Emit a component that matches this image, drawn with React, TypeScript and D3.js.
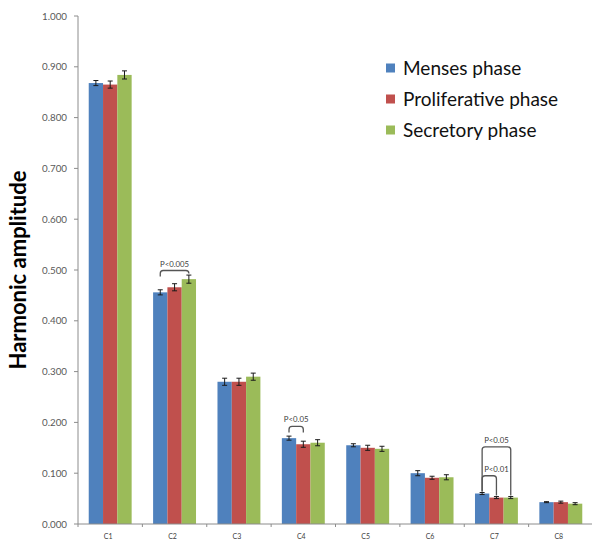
import { useEffect, useRef } from 'react'
import * as d3 from 'd3'

const categories = ['C1', 'C2', 'C3', 'C4', 'C5', 'C6', 'C7', 'C8']
const seriesNames = ['Menses phase', 'Proliferative phase', 'Secretory phase']
const seriesColors = ['#4F81BD', '#C0504D', '#9BBB59']

const menses = [0.868, 0.456, 0.28, 0.169, 0.155, 0.1, 0.06, 0.043]
const proliferative = [0.865, 0.466, 0.28, 0.157, 0.15, 0.091, 0.052, 0.043]
const secretory = [0.884, 0.482, 0.29, 0.16, 0.148, 0.092, 0.052, 0.04]

const mensesErr = [0.005, 0.005, 0.007, 0.004, 0.003, 0.005, 0.002, 0.001]
const proliferativeErr = [0.007, 0.007, 0.007, 0.006, 0.005, 0.003, 0.002, 0.002]
const secretoryErr = [0.008, 0.008, 0.007, 0.006, 0.005, 0.005, 0.002, 0.002]

const yTicks = [0, 0.1, 0.2, 0.3, 0.4, 0.5, 0.6, 0.7, 0.8, 0.9, 1.0]

// significance brackets: category, from series, to series, label, bracket top value
const brackets = [
  { cat: 'C2', from: 0, to: 2, label: 'P<0.005', top: 0.499 },
  { cat: 'C4', from: 0, to: 1, label: 'P<0.05', top: 0.192 },
  { cat: 'C7', from: 0, to: 2, label: 'P<0.05', top: 0.152 },
  { cat: 'C7', from: 0, to: 1, label: 'P<0.01', top: 0.095 },
]

const App = () => {
  const svgRef = useRef<SVGSVGElement | null>(null)

  useEffect(() => {
    const svg = d3.select(svgRef.current)
    svg.selectAll('*').remove()

    const width = 592
    const height = 542
    const margin = { top: 16, right: 0, bottom: 18, left: 78 }

    const values = [menses, proliferative, secretory]
    const errors = [mensesErr, proliferativeErr, secretoryErr]

    const x0 = d3.scaleBand().domain(categories).range([margin.left, width + 1])
    const x1 = d3
      .scaleBand()
      .domain(['0', '1', '2'])
      .range([0, x0.bandwidth()])
      .paddingOuter(0.75)
    const y = d3.scaleLinear().domain([0, 1]).range([height - margin.bottom, margin.top])

    const axisColor = '#8c8c8c'
    const baseY = y(0)

    // y axis
    svg
      .append('line')
      .attr('x1', margin.left)
      .attr('x2', margin.left)
      .attr('y1', y(1))
      .attr('y2', baseY)
      .attr('stroke', axisColor)

    const yt = svg.append('g')
    yt.selectAll('line')
      .data(yTicks)
      .join('line')
      .attr('x1', margin.left - 4)
      .attr('x2', margin.left)
      .attr('y1', (d) => y(d))
      .attr('y2', (d) => y(d))
      .attr('stroke', axisColor)
    yt.selectAll('text')
      .data(yTicks)
      .join('text')
      .attr('x', margin.left - 11)
      .attr('y', (d) => y(d) + 3.5)
      .attr('text-anchor', 'end')
      .attr('font-family', 'Lato, "Open Sans", sans-serif')
      .attr('font-size', 9.8)
      .attr('fill', '#595959')
      .text((d) => d3.format('.3f')(d))

    // bars
    categories.forEach((cat, ci) => {
      values.forEach((vals, si) => {
        const bx = x0(cat)! + x1(String(si))!
        const bw = x1.bandwidth()
        svg
          .append('rect')
          .attr('x', bx)
          .attr('y', y(vals[ci]))
          .attr('width', bw)
          .attr('height', baseY - y(vals[ci]))
          .attr('fill', seriesColors[si])
        const cx = bx + bw / 2
        const e = errors[si][ci]
        const g = svg.append('g').attr('stroke', '#1a1a1a').attr('stroke-width', 1)
        g.append('line')
          .attr('x1', cx)
          .attr('x2', cx)
          .attr('y1', y(vals[ci] + e))
          .attr('y2', y(vals[ci] - e))
        ;[vals[ci] + e, vals[ci] - e].forEach((v) => {
          g.append('line')
            .attr('x1', cx - 2.5)
            .attr('x2', cx + 2.5)
            .attr('y1', y(v))
            .attr('y2', y(v))
        })
      })
    })

    // x axis
    svg
      .append('line')
      .attr('x1', margin.left)
      .attr('x2', width)
      .attr('y1', baseY)
      .attr('y2', baseY)
      .attr('stroke', axisColor)
    svg
      .append('g')
      .selectAll('line')
      .data(categories)
      .join('line')
      .attr('x1', (d) => x0(d)!)
      .attr('x2', (d) => x0(d)!)
      .attr('y1', baseY)
      .attr('y2', baseY + 3)
      .attr('stroke', axisColor)
    svg
      .append('g')
      .selectAll('text')
      .data(categories)
      .join('text')
      .attr('x', (d) => x0(d)! + x0.bandwidth() / 2 - 2)
      .attr('y', baseY + 15)
      .attr('text-anchor', 'middle')
      .attr('font-family', 'Lato, "Open Sans", sans-serif')
      .attr('font-size', 7)
      .attr('fill', '#404040')
      .text((d) => d)

    // significance brackets
    brackets.forEach((b) => {
      const xa = x0(b.cat)! + x1(String(b.from))! + x1.bandwidth() / 2
      const xb = x0(b.cat)! + x1(String(b.to))! + x1.bandwidth() / 2
      const valsA = values[b.from]
      const valsB = values[b.to]
      const ci = categories.indexOf(b.cat)
      const legA = Math.min(y(valsA[ci] + errors[b.from][ci]) - 2, y(b.top) + 6)
      const legB = Math.min(y(valsB[ci] + errors[b.to][ci]) - 2, y(b.top) + 6)
      const footA = b.cat === 'C7' ? y(valsA[ci]) - 2 : legA
      const footB = b.cat === 'C7' ? y(valsB[ci]) - 2 : legB
      const r = 3
      const path = d3.path()
      path.moveTo(xa, footA)
      path.lineTo(xa, y(b.top) + r)
      path.quadraticCurveTo(xa, y(b.top), xa + r, y(b.top))
      path.lineTo(xb - r, y(b.top))
      path.quadraticCurveTo(xb, y(b.top), xb, y(b.top) + r)
      path.lineTo(xb, footB)
      svg
        .append('path')
        .attr('d', path.toString())
        .attr('fill', 'none')
        .attr('stroke', '#555')
        .attr('stroke-width', 1.3)
      const labelX = b.cat === 'C7' ? (xa + x0(b.cat)! + x1('2')! + x1.bandwidth() / 2) / 2 : (xa + xb) / 2
      svg
        .append('text')
        .attr('x', labelX)
        .attr('y', y(b.top) - 4)
        .attr('text-anchor', 'middle')
        .attr('font-family', 'Lato, "Open Sans", sans-serif')
        .attr('font-size', 7.8)
        .attr('fill', '#404040')
        .text(b.label)
    })

    // y axis title
    svg
      .append('text')
      .attr('transform', `translate(26, 270) rotate(-90)`)
      .attr('text-anchor', 'middle')
      .attr('font-family', 'Lato, "Open Sans", sans-serif')
      .attr('font-weight', 'bold')
      .attr('font-size', 22)
      .attr('fill', '#000')
      .text('Harmonic amplitude')

    // legend
    const legend = svg.append('g').attr('transform', 'translate(386, 68)')
    seriesNames.forEach((name, i) => {
      const row = legend.append('g').attr('transform', `translate(0, ${i * 31})`)
      row.append('rect').attr('x', 0).attr('y', -4.5).attr('width', 9).attr('height', 9).attr('fill', seriesColors[i])
      row
        .append('text')
        .attr('x', 17)
        .attr('y', 6.5)
        .attr('font-family', 'Lato, "Open Sans", sans-serif')
        .attr('font-size', 19)
        .attr('fill', '#111')
        .text(name)
    })
  }, [])

  return (
    <div style={{ position: 'absolute', left: 0, top: 0 }}>
      <svg ref={svgRef} width={592} height={542} style={{ display: 'block', background: '#fff' }} />
    </div>
  )
}

export default App
